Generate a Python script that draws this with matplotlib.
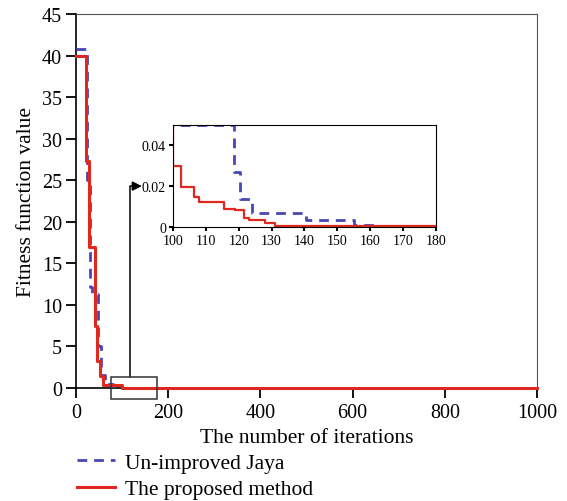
import numpy as np
import matplotlib; matplotlib.use("Agg")
import matplotlib.pyplot as plt

plt.rcParams['font.family'] = ['Liberation Serif', 'DejaVu Serif']

# step curves (iteration, fitness)
jaya_x = [0, 24, 30, 35, 48, 55, 62, 80, 100, 103, 116, 118.5, 120.5, 124, 140.5, 153, 155, 163, 180, 1000]
jaya_y = [40.8, 25.0, 12.2, 11.3, 5.0, 1.6, 0.5, 0.3, 0.05, 0.05, 0.05, 0.0268, 0.0137, 0.0066, 0.0033, 0.0033, 0.0008, 0.0003, 0.0003, 0.0003]
prop_x = [0, 22, 28, 42, 45, 52, 58, 100, 102.5, 106.5, 108, 115.5, 119, 121.5, 123, 128, 131, 180, 1000]
prop_y = [40.0, 27.3, 17.0, 7.5, 3.3, 1.5, 0.4, 0.03, 0.0196, 0.0145, 0.012, 0.009, 0.0085, 0.0044, 0.0033, 0.0021, 0.0005, 0.0003, 0.0003]

C_JAYA = "#4646b4"; C_PROP = "#e0281e"

fig = plt.figure(figsize=(5.67, 5.02), dpi=100)
ax = fig.add_axes([0.134, 0.225, 0.813, 0.745])
l1, = ax.step(jaya_x, jaya_y, where='post', color=C_JAYA, lw=2, ls=(0, (3.5, 2.5)),
              label="Un-improved Jaya", zorder=3, clip_on=False)
l2, = ax.step(prop_x, prop_y, where='post', color=C_PROP, lw=2.2,
              label="The proposed method", zorder=4, clip_on=False)
ax.set_xlim(0, 1000); ax.set_ylim(0, 45)
ax.set_xticks(np.arange(0, 1001, 200)); ax.set_yticks(np.arange(0, 46, 5))
ax.tick_params(direction='out', length=7, width=1.3, labelsize=14.5, pad=3)
ax.tick_params(axis='x', pad=4)
for s in ['top', 'right']:
    ax.spines[s].set_color('#555555')
for s in ['left', 'bottom']:
    ax.spines[s].set_linewidth(1.2)
ax.set_xlabel("The number of iterations", fontsize=15.5, labelpad=4)
ax.set_ylabel("Fitness function value", fontsize=15.5, labelpad=4)

# zoom box and arrow
ax.add_patch(plt.Rectangle((76, -1.3), 100, 2.6, fill=False, ec='#333333', lw=1.1, clip_on=False, zorder=5))
ax.annotate("", xy=(143, 24.3), xytext=(117, 1.3),
            arrowprops=dict(arrowstyle='-|>', color='black', lw=1.1, shrinkA=0, shrinkB=0,
                            mutation_scale=14, connectionstyle="angle,angleA=90,angleB=0,rad=0"))

ins = fig.add_axes([0.305, 0.546, 0.464, 0.203])
ins.step(jaya_x, jaya_y, where='post', color=C_JAYA, lw=2, ls=(0, (3.5, 2.5)))
ins.step(prop_x, prop_y, where='post', color=C_PROP, lw=1.6)
ins.set_xlim(100, 180); ins.set_ylim(0, 0.05)
ins.set_xticks(np.arange(100, 181, 10)); ins.set_yticks([0, 0.02, 0.04])
ins.set_yticklabels(["0", "0.02", "0.04"])
ins.tick_params(direction='out', length=3, width=1.5, labelsize=10, pad=2)

fig.legend(handles=[l1, l2], loc='upper left', bbox_to_anchor=(0.116, 0.118), frameon=False,
           fontsize=15.5, handlelength=1.8, handletextpad=0.45, labelspacing=0.3, borderpad=0)

plt.savefig("out.png", dpi=100)
